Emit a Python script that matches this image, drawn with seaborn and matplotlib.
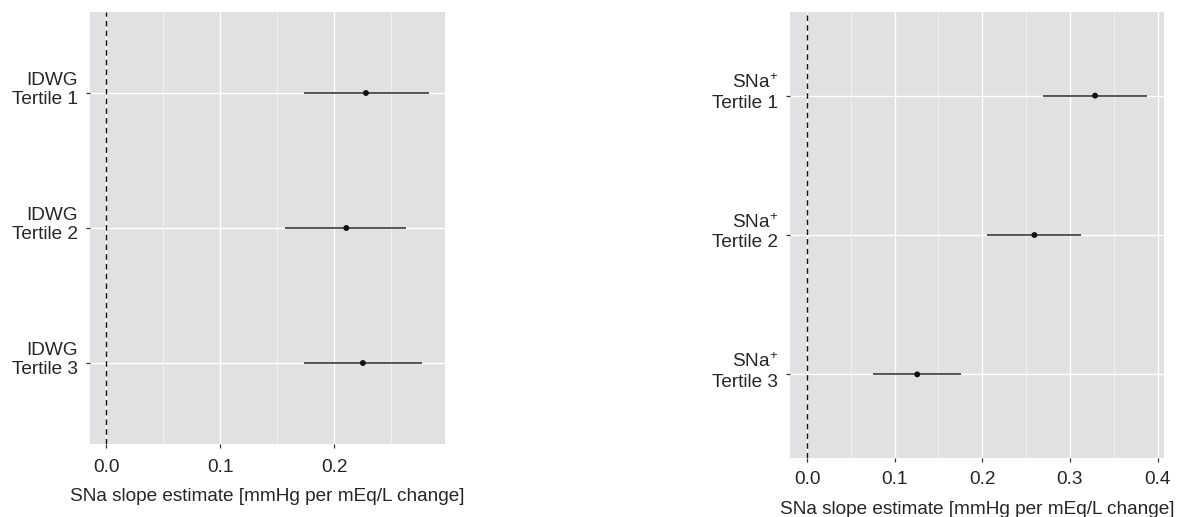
import matplotlib
matplotlib.use("Agg")
import matplotlib.pyplot as plt
import matplotlib.transforms as mtransforms
import seaborn as sns
import pandas as pd

# ---- data ----
idwg_labels = ["IDWG\nTertile 1", "IDWG\nTertile 2", "IDWG\nTertile 3"]
idwg_est = [0.2277, 0.2105, 0.2250]
idwg_lo = [0.1730, 0.1570, 0.1730]
idwg_hi = [0.2827, 0.2630, 0.2770]

sna_labels = ["SNa$^{+}$\nTertile 1", "SNa$^{+}$\nTertile 2", "SNa$^{+}$\nTertile 3"]
sna_est = [0.3286, 0.2594, 0.1257]
sna_lo = [0.2697, 0.2055, 0.0752]
sna_hi = [0.3875, 0.3126, 0.1762]

x_title = "SNa slope estimate [mmHg per mEq/L change]"
left_ticks = [0.0, 0.1, 0.2]
right_ticks = [0.0, 0.1, 0.2, 0.3, 0.4]

sns.set_theme(style="darkgrid")
plt.rcParams["font.family"] = ["Liberation Sans", "DejaVu Sans"]
plt.rcParams["mathtext.fontset"] = "custom"
plt.rcParams["mathtext.rm"] = "Liberation Sans"
plt.rcParams["mathtext.it"] = "Liberation Sans"
plt.rcParams["mathtext.default"] = "regular"

BG = "#e1e1e3"
TXT = "#262626"
FS = 13.7

fig = plt.figure(figsize=(11.86, 5.17), dpi=100)
fig.patch.set_facecolor("white")
ax1 = fig.add_axes([90 / 1186, (517 - 444) / 517, 355 / 1186, 432 / 517])
ax2 = fig.add_axes([790 / 1186, (517 - 458) / 517, 373.7 / 1186, 446 / 517])


def panel(ax, labels, est, lo, hi, ticks, xlim, xpad, lpad):
    df = pd.DataFrame({"label": labels, "est": est, "lo": lo, "hi": hi})
    ax.set_facecolor(BG)
    ax.hlines(df["label"], df["lo"], df["hi"], color="#2b2b2b", lw=1.1, zorder=3)
    sns.scatterplot(data=df, x="est", y="label", ax=ax, color="#111111",
                    s=18, edgecolor="none", zorder=4, legend=False)
    ax.axvline(0, color="#111111", lw=1.0, ls=(0, (4, 3)), zorder=2)
    ax.set_xlim(*xlim)
    ax.set_ylim(2.6, -0.6)
    ax.set_xticks(ticks)
    ax.set_xticklabels([f"{t:.1f}" for t in ticks])
    minor = [t + 0.05 for t in ticks[:-1]]
    if ticks[-1] + 0.05 < xlim[1]:
        minor.append(ticks[-1] + 0.05)
    ax.set_xticks(minor, minor=True)
    ax.grid(which="major", color="white", lw=1.0)
    ax.grid(which="minor", axis="x", color="white", lw=0.5, alpha=0.7)
    ax.set_axisbelow(True)
    for s in ax.spines.values():
        s.set_visible(False)
    ax.tick_params(axis="both", which="major", bottom=True, left=True, length=3,
                   width=0.9, color="#333333", labelsize=FS, labelcolor=TXT)
    ax.tick_params(axis="y", pad=5.5)
    ax.tick_params(axis="x", pad=xpad)
    ax.tick_params(axis="x", which="minor", length=0, bottom=False)
    shift = mtransforms.ScaledTranslation(0, 4.5 / 72, fig.dpi_scale_trans)
    for t in ax.get_yticklabels():
        t.set_horizontalalignment("right")
        t.set_multialignment("right")
        t.set_transform(t.get_transform() + shift)
    ax.set_ylabel("")
    ax.set_xlabel(x_title, fontsize=FS, color=TXT, labelpad=lpad)


panel(ax1, idwg_labels, idwg_est, idwg_lo, idwg_hi, left_ticks, (-0.0142, 0.2970), 7.5, 9)
panel(ax2, sna_labels, sna_est, sna_lo, sna_hi, right_ticks, (-0.0194, 0.4069), 6.5, 9.5)

fig.savefig("out.png", dpi=100, facecolor="white")
